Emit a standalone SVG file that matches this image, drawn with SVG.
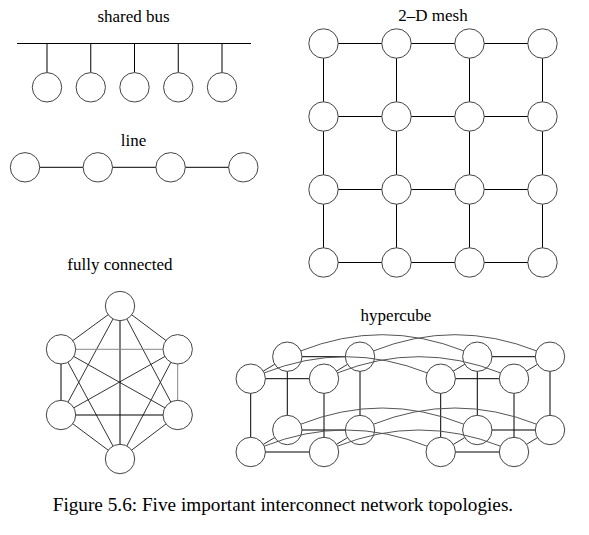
<svg xmlns="http://www.w3.org/2000/svg" width="589" height="535" viewBox="0 0 589 535">
<style>
.n{fill:#fff;stroke:#444;stroke-width:1}
.e{fill:none;stroke:#000;stroke-width:1}
.d{fill:none;stroke:#333;stroke-width:1}
.g{fill:none;stroke:#888;stroke-width:1}
.a{fill:none;stroke:#555;stroke-width:1}
.t{font-family:"Liberation Serif","Times New Roman",serif;font-size:17px;fill:#000;text-anchor:middle}
.cap{font-family:"Liberation Serif","Times New Roman",serif;font-size:18px;fill:#000}
</style>
<rect width="589" height="535" fill="#fff"/>
<g id="labels">
<text class="t" x="133.5" y="22">shared bus</text>
<text class="t" x="133.5" y="146">line</text>
<text class="t" x="433" y="21">2–D mesh</text>
<text class="t" x="120" y="269.5">fully connected</text>
<text class="t" x="396" y="321">hypercube</text>
<text class="cap" x="52.7" y="511" textLength="460.5" lengthAdjust="spacingAndGlyphs">Figure 5.6: Five important interconnect network topologies.</text>
</g>
<g id="connectors">
<!-- shared bus -->
<path class="e" d="M17 43.5H251M47 43.5V72.6M90.75 43.5V72.6M134.5 43.5V72.6M178.25 43.5V72.6M222 43.5V72.6"/>
<!-- line -->
<path class="e" d="M25 167.3H243.3"/>
<!-- mesh -->
<path class="e" d="M323.5 43.5H542.5M323.5 116.5H542.5M323.5 189.5H542.5M323.5 262.5H542.5M323.5 43.5V262.5M396.5 43.5V262.5M469.5 43.5V262.5M542.5 43.5V262.5"/>
<!-- fully connected -->
<path class="d" d="M120 306L61 349.3M120 306L177.7 349.3M120 306L61 415M120 306L177.7 415M61 349.3L177.7 415M177.7 349.3L61 415M61 349.3L120 459M177.7 349.3L120 459M61 415L120 459M177.7 415L120 459"/>
<path class="e" d="M120 306V459M61 349.3V415M61 415H177.7"/>
<path class="g" d="M61 349.3H177.7M177.7 349.3V415"/>
<!-- hypercube straight edges -->
<path class="e" d="M250.7 378.7H324M287.3 356.7H360M250.7 452H324M287.3 430H360M250.7 378.7V452M324 378.7V452M287.3 356.7V430M360 356.7V430"/>
<path class="d" d="M250.7 378.7L287.3 356.7M324 378.7L360 356.7M250.7 452L287.3 430M324 452L360 430"/>
<path class="e" d="M440.7 378.7H514M477.3 356.7H550M440.7 452H514M477.3 430H550M440.7 378.7V452M514 378.7V452M477.3 356.7V430M550 356.7V430"/>
<path class="d" d="M440.7 378.7L477.3 356.7M514 378.7L550 356.7M440.7 452L477.3 430M514 452L550 430"/>
</g>
<g id="nodes">
<g id="bus1"><circle class="n" cx="47" cy="87.3" r="14.7"/></g>
<g id="bus2"><circle class="n" cx="90.75" cy="87.3" r="14.7"/></g>
<g id="bus3"><circle class="n" cx="134.5" cy="87.3" r="14.7"/></g>
<g id="bus4"><circle class="n" cx="178.25" cy="87.3" r="14.7"/></g>
<g id="bus5"><circle class="n" cx="222" cy="87.3" r="14.7"/></g>
<g id="line1"><circle class="n" cx="25" cy="167.3" r="14.7"/></g>
<g id="line2"><circle class="n" cx="97.8" cy="167.3" r="14.7"/></g>
<g id="line3"><circle class="n" cx="170.6" cy="167.3" r="14.7"/></g>
<g id="line4"><circle class="n" cx="243.3" cy="167.3" r="14.7"/></g>
<g id="mesh11"><circle class="n" cx="323.5" cy="43.5" r="14.7"/></g>
<g id="mesh12"><circle class="n" cx="396.5" cy="43.5" r="14.7"/></g>
<g id="mesh13"><circle class="n" cx="469.5" cy="43.5" r="14.7"/></g>
<g id="mesh14"><circle class="n" cx="542.5" cy="43.5" r="14.7"/></g>
<g id="mesh21"><circle class="n" cx="323.5" cy="116.5" r="14.7"/></g>
<g id="mesh22"><circle class="n" cx="396.5" cy="116.5" r="14.7"/></g>
<g id="mesh23"><circle class="n" cx="469.5" cy="116.5" r="14.7"/></g>
<g id="mesh24"><circle class="n" cx="542.5" cy="116.5" r="14.7"/></g>
<g id="mesh31"><circle class="n" cx="323.5" cy="189.5" r="14.7"/></g>
<g id="mesh32"><circle class="n" cx="396.5" cy="189.5" r="14.7"/></g>
<g id="mesh33"><circle class="n" cx="469.5" cy="189.5" r="14.7"/></g>
<g id="mesh34"><circle class="n" cx="542.5" cy="189.5" r="14.7"/></g>
<g id="mesh41"><circle class="n" cx="323.5" cy="262.5" r="14.7"/></g>
<g id="mesh42"><circle class="n" cx="396.5" cy="262.5" r="14.7"/></g>
<g id="mesh43"><circle class="n" cx="469.5" cy="262.5" r="14.7"/></g>
<g id="mesh44"><circle class="n" cx="542.5" cy="262.5" r="14.7"/></g>
<g id="full1"><circle class="n" cx="120" cy="306" r="14.7"/></g>
<g id="full2"><circle class="n" cx="61" cy="349.3" r="14.7"/></g>
<g id="full3"><circle class="n" cx="177.7" cy="349.3" r="14.7"/></g>
<g id="full4"><circle class="n" cx="61" cy="415" r="14.7"/></g>
<g id="full5"><circle class="n" cx="177.7" cy="415" r="14.7"/></g>
<g id="full6"><circle class="n" cx="120" cy="459" r="14.7"/></g>
<g id="hcA1"><circle class="n" cx="250.7" cy="378.7" r="14.7"/></g>
<g id="hcA2"><circle class="n" cx="324" cy="378.7" r="14.7"/></g>
<g id="hcA3"><circle class="n" cx="287.3" cy="356.7" r="14.7"/></g>
<g id="hcA4"><circle class="n" cx="360" cy="356.7" r="14.7"/></g>
<g id="hcA5"><circle class="n" cx="250.7" cy="452" r="14.7"/></g>
<g id="hcA6"><circle class="n" cx="324" cy="452" r="14.7"/></g>
<g id="hcA7"><circle class="n" cx="287.3" cy="430" r="14.7"/></g>
<g id="hcA8"><circle class="n" cx="360" cy="430" r="14.7"/></g>
<g id="hcB1"><circle class="n" cx="440.7" cy="378.7" r="14.7"/></g>
<g id="hcB2"><circle class="n" cx="514" cy="378.7" r="14.7"/></g>
<g id="hcB3"><circle class="n" cx="477.3" cy="356.7" r="14.7"/></g>
<g id="hcB4"><circle class="n" cx="550" cy="356.7" r="14.7"/></g>
<g id="hcB5"><circle class="n" cx="440.7" cy="452" r="14.7"/></g>
<g id="hcB6"><circle class="n" cx="514" cy="452" r="14.7"/></g>
<g id="hcB7"><circle class="n" cx="477.3" cy="430" r="14.7"/></g>
<g id="hcB8"><circle class="n" cx="550" cy="430" r="14.7"/></g>
</g>
<g id="connectors-arcs">
<path class="a" d="M264.2 372.9Q345.7 340.5 427.2 372.9"/>
<path class="a" d="M337.5 372.9Q419 340.5 500.5 372.9"/>
<path class="a" d="M300.8 350.9Q382.3 318.5 463.8 350.9"/>
<path class="a" d="M373.5 350.9Q455 318.5 536.5 350.9"/>
<path class="a" d="M264.2 446.2Q345.7 413.8 427.2 446.2"/>
<path class="a" d="M337.5 446.2Q419 413.8 500.5 446.2"/>
<path class="a" d="M300.8 424.2Q382.3 391.8 463.8 424.2"/>
<path class="a" d="M373.5 424.2Q455 391.8 536.5 424.2"/>
</g>
</svg>
